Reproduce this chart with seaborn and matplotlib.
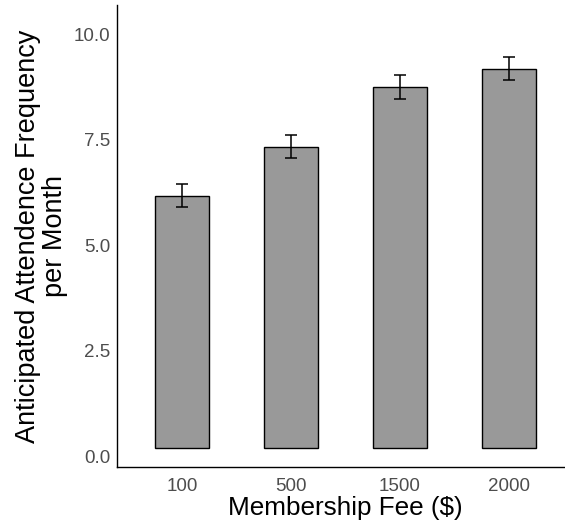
import numpy as np
import pandas as pd
import matplotlib
matplotlib.use('Agg')
import matplotlib.pyplot as plt
import seaborn as sns

# values
fees = ['100', '500', '1500', '2000']
means = [6.18, 7.34, 8.76, 9.19]
se = [0.28, 0.28, 0.28, 0.28]
base = 0.2  # bars start a bit above zero in the original

sns.set_theme(style='white')
plt.rcParams['font.family'] = ['Liberation Sans', 'DejaVu Sans']

df = pd.DataFrame({'fee': fees, 'mean': means, 'se': se})
df['height'] = df['mean'] - base

fig = plt.figure(figsize=(5.65, 5.24), dpi=100)
# panel runs a little past the right edge of the image, as in the original
ax = fig.add_axes([117 / 565, 57 / 524, 457 / 565, 462 / 524])

sns.barplot(data=df, x='fee', y='height', bottom=base, order=fees,
            color='#999999', saturation=1, width=0.5,
            edgecolor='black', linewidth=1, errorbar=None, ax=ax)
ax.errorbar(x=np.arange(len(fees)), y=df['mean'], yerr=df['se'],
            fmt='none', ecolor='black', elinewidth=1.1, capsize=4.5, capthick=1.1)

ax.set_xlim(-0.6, 3.6)
ax.set_ylim(-0.26, 10.7)
ax.set_yticks([0, 2.5, 5, 7.5, 10])
ax.set_yticklabels(['0.0', '2.5', '5.0', '7.5', '10.0'])
ax.tick_params(axis='both', length=0, labelsize=13.5, labelcolor='#4d4d4d')
ax.tick_params(axis='y', pad=5)
ax.tick_params(axis='x', pad=8)

for s in ['top', 'right']:
    ax.spines[s].set_visible(False)
for s in ['left', 'bottom']:
    ax.spines[s].set_color('black')
    ax.spines[s].set_linewidth(1)

ax.set_xlabel('Membership Fee ($)', fontsize=18.8, color='black', labelpad=1)
ax.set_ylabel('Anticipated Attendence Frequency\nper Month', fontsize=19.5,
              color='black', labelpad=4, linespacing=1.05)

fig.savefig('out.png', dpi=100)
